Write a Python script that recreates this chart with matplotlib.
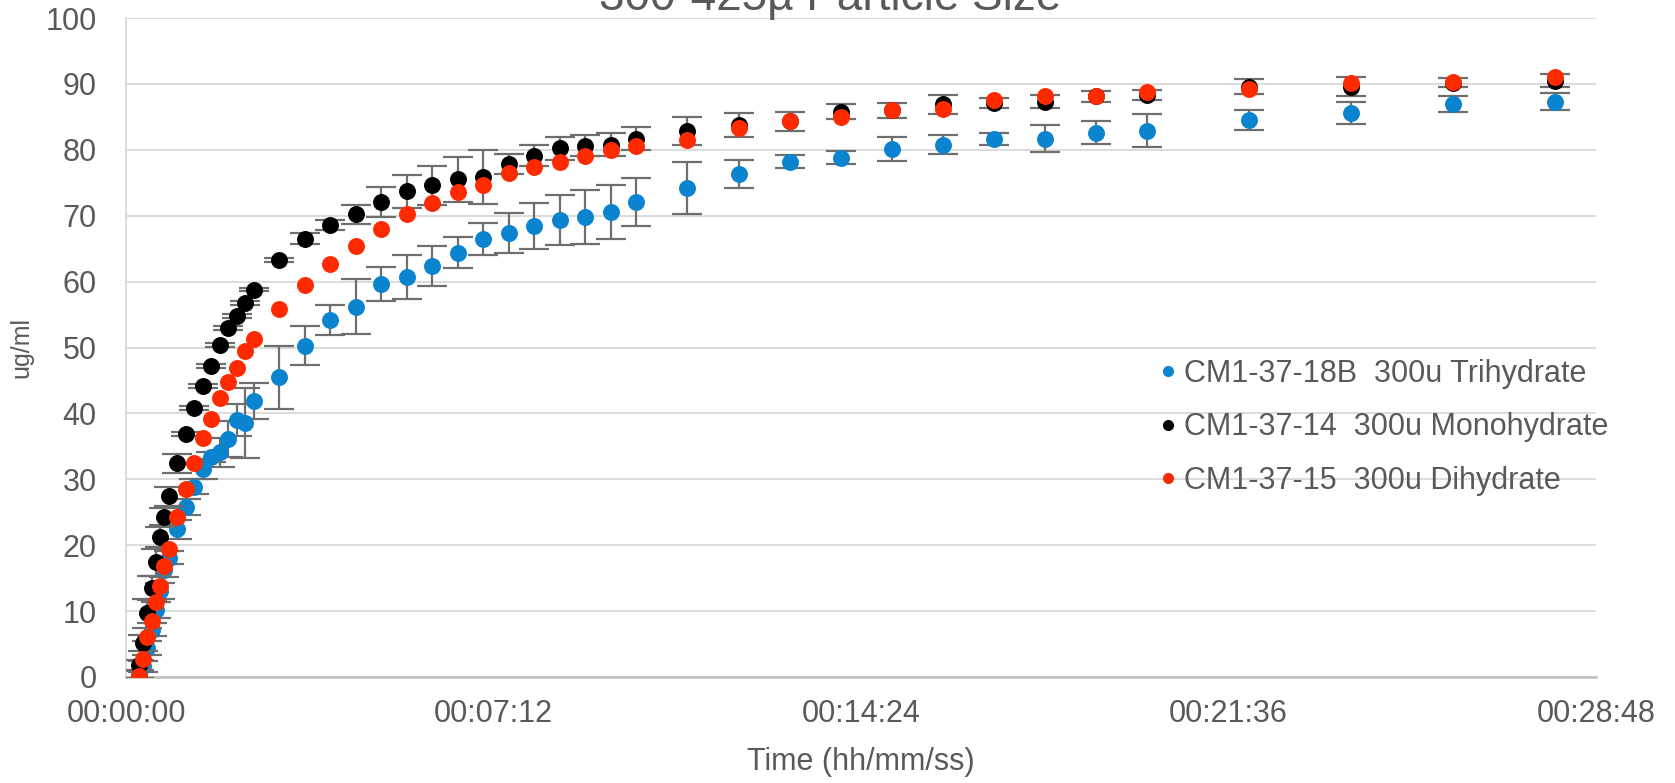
import matplotlib
matplotlib.use("Agg")
import matplotlib.pyplot as plt
from matplotlib.lines import Line2D

# ---- data ----
time_s = [15, 20, 25, 30, 35, 40, 45, 50, 60, 70, 80, 90, 100, 110, 120, 130, 140, 150,
          180, 210, 240, 270, 300, 330, 360, 390, 420, 450, 480, 510, 540, 570, 600,
          660, 720, 780, 840, 900, 960, 1020, 1080, 1140, 1200, 1320, 1440, 1560, 1680]

tri_label = "CM1-37-18B  300u Trihydrate"
tri_vals = [0.4, 1.6, 4.4, 7.2, 10.2, 13.1, 16.2, 18.1, 22.4, 25.8, 28.9, 31.6, 33.4, 34.1, 36.1, 39.0, 38.6, 41.9,
            45.5, 50.3, 54.2, 56.2, 59.6, 60.7, 62.4, 64.4, 66.5, 67.4, 68.5, 69.3, 69.8, 70.6, 72.1,
            74.2, 76.3, 78.2, 78.8, 80.1, 80.8, 81.6, 81.7, 82.6, 82.9, 84.5, 85.6, 86.9, 87.3]
tri_err = [0.5, 0.8, 1.0, 1.0, 1.2, 1.2, 1.0, 1.0, 1.4, 1.2, 1.1, 1.5, 0.8, 2.2, 2.7, 2.5, 5.3, 2.7,
           4.8, 3.0, 2.3, 4.2, 2.6, 3.3, 3.0, 2.3, 2.4, 3.0, 3.5, 3.8, 4.1, 4.1, 3.6,
           3.9, 2.1, 1.0, 1.0, 1.8, 1.4, 0.9, 2.0, 1.7, 2.5, 1.5, 1.7, 1.2, 1.3]

mono_label = "CM1-37-14  300u Monohydrate"
mono_vals = [1.8, 5.2, 9.7, 13.5, 17.4, 21.3, 24.3, 27.4, 32.4, 36.9, 40.8, 44.1, 47.2, 50.4, 52.9, 54.8, 56.7, 58.8,
             63.3, 66.5, 68.6, 70.2, 72.1, 73.7, 74.6, 75.5, 75.9, 77.9, 79.1, 80.2, 80.6, 80.8, 81.7,
             82.9, 83.8, 84.3, 85.8, 86.0, 86.9, 87.1, 87.3, 88.1, 88.3, 89.6, 89.6, 90.2, 90.5]
mono_err = [0.8, 1.2, 2.2, 1.8, 2.0, 1.5, 1.3, 1.4, 1.4, 0.3, 0.3, 0.3, 0.3, 0.3, 0.3, 0.3, 0.3, 0.3,
            0.3, 0.8, 0.8, 1.4, 2.3, 2.5, 3.0, 3.4, 4.1, 1.5, 1.6, 1.7, 1.6, 1.7, 1.8,
            2.1, 1.8, 1.5, 1.1, 1.1, 1.4, 0.8, 1.0, 0.8, 0.8, 1.2, 1.4, 0.7, 1.0]

di_label = "CM1-37-15  300u Dihydrate"
di_vals = [0.2, 2.7, 6.0, 8.5, 11.4, 13.8, 16.8, 19.4, 24.3, 28.6, 32.4, 36.3, 39.1, 42.4, 44.8, 46.9, 49.4, 51.3,
           55.8, 59.5, 62.7, 65.4, 68.0, 70.3, 72.0, 73.6, 74.7, 76.5, 77.4, 78.1, 79.0, 79.9, 80.6,
           81.5, 83.3, 84.3, 85.0, 86.0, 86.2, 87.6, 88.1, 88.2, 88.8, 89.2, 90.2, 90.3, 91.1]

x_ticks = [0, 432, 864, 1296, 1728]
x_tick_labels = ["00:00:00", "00:07:12", "00:14:24", "00:21:36", "00:28:48"]
y_ticks = list(range(0, 101, 10))

title = "300-425\u00b5 Particle Size"
x_title = "Time (hh/mm/ss)"
y_title = "ug/ml"

# ---- style ----
plt.rcParams['font.family'] = ['Liberation Sans', 'DejaVu Sans']
txt = '#595959'
c_tri = '#0A84CE'
c_mono = '#000000'
c_di = '#FF2A00'
err_c = '#6E6E6E'

W, H = 1675, 783
fig = plt.figure(figsize=(W / 100, H / 100), dpi=100)
L, R, T, B = 126, 1596, 18, 677
ax = fig.add_axes([L / W, 1 - B / H, (R - L) / W, (B - T) / H])

ms = 12.2
ekw = dict(ecolor=err_c, elinewidth=1.6, capsize=10.5, capthick=1.6)
ax.errorbar(time_s, tri_vals, yerr=tri_err, fmt='o', color=c_tri, ms=ms, mec='none',
            zorder=3, **ekw)
ax.errorbar(time_s, mono_vals, yerr=mono_err, fmt='o', color=c_mono, ms=ms, mec='none',
            zorder=4, **ekw)
ax.plot(time_s, di_vals, 'o', color=c_di, ms=ms, mec='none', zorder=5)

ax.set_xlim(0, 1728)
ax.set_ylim(0, 100)
ax.set_xticks(x_ticks)
ax.set_xticklabels(x_tick_labels)
ax.set_yticks(y_ticks)
ax.tick_params(axis='both', length=0, labelsize=22, labelcolor=txt)
ax.tick_params(axis='x', pad=16)
ax.tick_params(axis='y', pad=21)
ax.grid(axis='y', color='#D9D9D9', lw=1.3, zorder=0)
ax.set_axisbelow(True)
for s in ['top', 'right']:
    ax.spines[s].set_visible(False)
ax.spines['left'].set_color('#D9D9D9')
ax.spines['left'].set_linewidth(1.3)
ax.spines['bottom'].set_color('#BFBFBF')
ax.spines['bottom'].set_linewidth(1.8)

ax.set_xlabel(x_title, fontsize=22, color=txt)
ax.xaxis.set_label_coords(0.5, -0.106)
ax.set_ylabel(y_title, fontsize=18, color=txt)
ax.yaxis.set_label_coords(-0.063, 0.5)

fig.text(830 / W, 1 - 10 / H, title, ha='center', va='baseline', fontsize=33, color=txt)

handles = [Line2D([], [], ls='none', marker='o', ms=8, color=c, mec='none')
           for c in (c_tri, c_mono, c_di)]
labels = [tri_label, mono_label, di_label]
leg = ax.legend(handles, labels, loc='center left', bbox_to_anchor=(0.7034, 0.379),
                frameon=False, fontsize=22, handlelength=0.5,
                handletextpad=0.28, labelspacing=0.77, borderpad=0, borderaxespad=0)
for t in leg.get_texts():
    t.set_color(txt)

fig.savefig("out.png", dpi=100)
